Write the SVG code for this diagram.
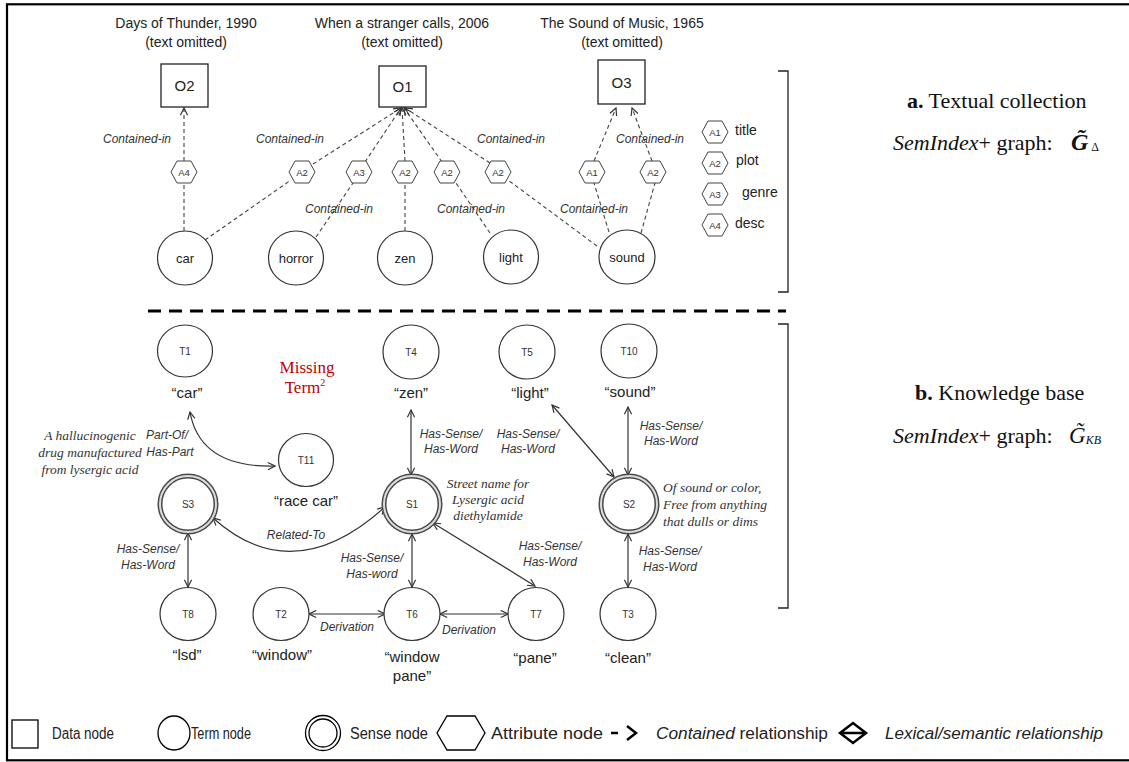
<svg xmlns="http://www.w3.org/2000/svg" xmlns:xlink="http://www.w3.org/1999/xlink" width="1129" height="762" viewBox="0 0 1129 762">
  <style>
    .sans { font-family: "Liberation Sans", Arial, sans-serif; fill: #222; }
    .serif { font-family: "Liberation Serif", "Times New Roman", serif; fill: #111; }
    .ttl { font-size: 14px; text-anchor: middle; }
    .oid { font-size: 15px; text-anchor: middle; }
    .tnm { font-size: 13px; text-anchor: middle; }
    .tid { font-size: 10px; text-anchor: middle; fill: #333; }
    .aid { font-size: 9.5px; text-anchor: middle; fill: #333; }
    .qt { font-size: 15px; text-anchor: middle; }
    .lbl { font-size: 12px; font-style: italic; fill: #333; }
    .mid { text-anchor: middle; }
    .desc { font-size: 13.5px; font-style: italic; fill: #333; }
    .box { fill: #fff; stroke: #222; stroke-width: 1.3; }
    .term { fill: #fff; stroke: #333; stroke-width: 1.2; }
    .hex { fill: #fff; stroke: #444; stroke-width: 1; }
    .dash { fill: none; stroke: #444; stroke-width: 1.1; stroke-dasharray: 4 3; }
    .rel { fill: none; stroke: #333; stroke-width: 1.2; }
    .leg { font-size: 16px; }
  </style>
  <defs>
    <marker id="open" viewBox="0 0 10 10" refX="9" refY="5" markerWidth="9" markerHeight="9" markerUnits="userSpaceOnUse" orient="auto-start-reverse">
      <path d="M1,1 L9,5 L1,9" fill="none" stroke="#333" stroke-width="1.3"/>
    </marker>
    <polygon id="hx" points="-13,0 -7,-11 7,-11 13,0 7,11 -7,11"/>
    <g id="sense">
      <circle r="28" fill="#fff" stroke="#4a4a4a" stroke-width="5"/>
      <circle r="28" fill="none" stroke="#dcdcdc" stroke-width="2"/>
    </g>
  </defs>

  <rect width="1129" height="762" fill="#fff"/>
  <!-- outer frame (right side runs off the canvas) -->
  <rect x="7" y="4.3" width="1140" height="756" fill="none" stroke="#000" stroke-width="2.2"/>

  <!-- section a: textual collection -->
  <g id="titles" class="sans ttl">
    <text x="186" y="28">Days of Thunder, 1990</text>
    <text x="186" y="47">(text omitted)</text>
    <text x="402" y="28">When a stranger calls, 2006</text>
    <text x="402" y="47">(text omitted)</text>
    <text x="622" y="28">The Sound of Music, 1965</text>
    <text x="622" y="47">(text omitted)</text>
  </g>

  <g id="connectors-a" class="dash">
    <path d="M184,231 V183"/>
    <path d="M184,161 V108" marker-end="url(#open)"/>
    <path d="M205,240 L291,180"/>
    <path d="M313,164 L401,108" marker-end="url(#open)"/>
    <path d="M316,237 L353,183"/>
    <path d="M365,162 L401,108" marker-end="url(#open)"/>
    <path d="M405,231 V183"/>
    <path d="M405,161 L402,108" marker-end="url(#open)"/>
    <path d="M490,233 L456,183"/>
    <path d="M442,162 L404,108" marker-end="url(#open)"/>
    <path d="M597,246 L508,180"/>
    <path d="M490,163 L405,108" marker-end="url(#open)"/>
    <path d="M609,232 L594,183"/>
    <path d="M594,161 L616,108" marker-end="url(#open)"/>
    <path d="M641,233 L655,183"/>
    <path d="M652,161 L632,108" marker-end="url(#open)"/>
  </g>

  <g id="contained-labels" class="sans lbl">
    <text x="103" y="143">Contained-in</text>
    <text x="256" y="143">Contained-in</text>
    <text x="305" y="213">Contained-in</text>
    <text x="437" y="213">Contained-in</text>
    <text x="477" y="143">Contained-in</text>
    <text x="560" y="213">Contained-in</text>
    <text x="616" y="143">Contained-in</text>
  </g>

  <g id="O2"><rect class="box" x="161" y="64" width="47" height="43"/><text class="sans oid" x="184.5" y="91">O2</text></g>
  <g id="O1"><rect class="box" x="379" y="66" width="47" height="41"/><text class="sans oid" x="402.5" y="92">O1</text></g>
  <g id="O3"><rect class="box" x="598" y="60" width="47" height="44"/><text class="sans oid" x="621.5" y="88">O3</text></g>

  <g id="A4-car"><use xlink:href="#hx" x="184" y="172" class="hex"/><text class="sans aid" x="184" y="175.5">A4</text></g>
  <g id="A2-car"><use xlink:href="#hx" x="302" y="172" class="hex"/><text class="sans aid" x="302" y="175.5">A2</text></g>
  <g id="A3-horror"><use xlink:href="#hx" x="359" y="172" class="hex"/><text class="sans aid" x="359" y="175.5">A3</text></g>
  <g id="A2-zen"><use xlink:href="#hx" x="405" y="172" class="hex"/><text class="sans aid" x="405" y="175.5">A2</text></g>
  <g id="A2-light"><use xlink:href="#hx" x="447" y="172" class="hex"/><text class="sans aid" x="447" y="175.5">A2</text></g>
  <g id="A2-sound"><use xlink:href="#hx" x="498" y="172" class="hex"/><text class="sans aid" x="498" y="175.5">A2</text></g>
  <g id="A1-sound"><use xlink:href="#hx" x="592" y="172" class="hex"/><text class="sans aid" x="592" y="175.5">A1</text></g>
  <g id="A2-sound-o3"><use xlink:href="#hx" x="653" y="172" class="hex"/><text class="sans aid" x="653" y="175.5">A2</text></g>

  <g id="car"><ellipse class="term" cx="185" cy="258" rx="27.5" ry="27"/><text class="sans tnm" x="185" y="263">car</text></g>
  <g id="horror"><ellipse class="term" cx="296" cy="258" rx="27.5" ry="27"/><text class="sans tnm" x="296" y="263">horror</text></g>
  <g id="zen"><ellipse class="term" cx="405" cy="258" rx="27.5" ry="27"/><text class="sans tnm" x="405" y="263">zen</text></g>
  <g id="light"><ellipse class="term" cx="511" cy="257" rx="27.5" ry="27"/><text class="sans tnm" x="511" y="262">light</text></g>
  <g id="sound"><ellipse class="term" cx="627" cy="257" rx="28" ry="27"/><text class="sans tnm" x="627" y="262">sound</text></g>

  <g id="attribute-key" class="sans">
    <use xlink:href="#hx" x="715" y="132" class="hex"/><text class="aid" x="715" y="135.5">A1</text><text x="735" y="135" font-size="14">title</text>
    <use xlink:href="#hx" x="715" y="163" class="hex"/><text class="aid" x="715" y="166.5">A2</text><text x="736" y="165" font-size="14">plot</text>
    <use xlink:href="#hx" x="715" y="194" class="hex"/><text class="aid" x="715" y="197.5">A3</text><text x="742" y="197" font-size="14">genre</text>
    <use xlink:href="#hx" x="715" y="225" class="hex"/><text class="aid" x="715" y="228.5">A4</text><text x="735" y="228" font-size="14">desc</text>
  </g>

  <path id="bracket-a" d="M778,71 H788 V292 H778" fill="none" stroke="#222" stroke-width="1.3"/>

  <g id="caption-a" class="serif">
    <text x="907" y="108" font-size="22"><tspan font-weight="bold">a.</tspan> Textual collection</text>
    <text x="893" y="150" font-size="22"><tspan font-style="italic">SemIndex</tspan>+ graph:</text>
    <text x="1071" y="150" font-size="24" font-weight="bold" font-style="italic">G&#771;<tspan font-size="12" font-weight="normal" font-style="normal" dx="3" dy="1">Δ</tspan></text>
  </g>

  <!-- separator between the two parts -->
  <path d="M148,311 H786" stroke="#000" stroke-width="3" stroke-dasharray="13 8"/>

  <!-- section b: knowledge base -->
  <g id="connectors-b" class="rel">
    <path d="M411,410 V475" marker-start="url(#open)" marker-end="url(#open)"/>
    <path d="M552,405 L614,477" marker-start="url(#open)" marker-end="url(#open)"/>
    <path d="M628,407 V475" marker-start="url(#open)" marker-end="url(#open)"/>
    <path d="M188,533 V587" marker-start="url(#open)" marker-end="url(#open)"/>
    <path d="M412,534 V587" marker-start="url(#open)" marker-end="url(#open)"/>
    <path d="M433,523 L535,586" marker-start="url(#open)" marker-end="url(#open)"/>
    <path d="M628,534 V587" marker-start="url(#open)" marker-end="url(#open)"/>
    <path d="M309,614 H385" marker-start="url(#open)" marker-end="url(#open)"/>
    <path d="M440,614 H508" marker-start="url(#open)" marker-end="url(#open)"/>
    <path d="M190,412 Q200,468 275,466" marker-start="url(#open)" marker-end="url(#open)"/>
    <path d="M213,518 Q293,590 385,507" marker-start="url(#open)" marker-end="url(#open)"/>
  </g>

  <g id="relation-labels" class="sans lbl mid">
    <text x="451" y="438">Has-Sense/</text><text x="451" y="453">Has-Word</text>
    <text x="528" y="438">Has-Sense/</text><text x="528" y="453">Has-Word</text>
    <text x="671" y="430">Has-Sense/</text><text x="671" y="445">Has-Word</text>
    <text x="148" y="553">Has-Sense/</text><text x="148" y="569">Has-Word</text>
    <text x="372" y="562">Has-Sense/</text><text x="372" y="578">Has-word</text>
    <text x="550" y="550">Has-Sense/</text><text x="550" y="566">Has-Word</text>
    <text x="670" y="555">Has-Sense/</text><text x="670" y="571">Has-Word</text>
    <text x="347" y="631">Derivation</text>
    <text x="469" y="634">Derivation</text>
    <text x="296" y="539">Related-To</text>
    <text x="167" y="439">Part-Of/</text><text x="170" y="456">Has-Part</text>
  </g>

  <g id="glosses" class="serif desc">
    <text x="90" y="440" text-anchor="middle">A hallucinogenic</text>
    <text x="90" y="457" text-anchor="middle">drug manufactured</text>
    <text x="90" y="474" text-anchor="middle">from lysergic acid</text>
    <text x="488" y="488" text-anchor="middle">Street name for</text>
    <text x="488" y="504" text-anchor="middle">Lysergic acid</text>
    <text x="488" y="520" text-anchor="middle">diethylamide</text>
    <text x="663" y="492">Of sound or color,</text>
    <text x="663" y="509">Free from anything</text>
    <text x="663" y="526">that dulls or dims</text>
  </g>

  <g id="missing-term" class="serif">
    <text x="307" y="373" font-size="17" text-anchor="middle" fill="#c00000">Missing</text>
    <text x="305" y="393" font-size="17" text-anchor="middle" fill="#c00000">Term<tspan font-size="10" dy="-7">2</tspan></text>
  </g>

  <g id="T1"><ellipse class="term" cx="185" cy="351" rx="27.5" ry="26"/><text class="sans tid" x="185" y="355">T1</text><text class="sans qt" x="187" y="398">“car”</text></g>
  <g id="T4"><ellipse class="term" cx="411" cy="352" rx="28" ry="27"/><text class="sans tid" x="411" y="356">T4</text><text class="sans qt" x="411" y="398">“zen”</text></g>
  <g id="T5"><ellipse class="term" cx="527" cy="352" rx="28" ry="27"/><text class="sans tid" x="527" y="356">T5</text><text class="sans qt" x="530" y="398">“light”</text></g>
  <g id="T10"><ellipse class="term" cx="629" cy="351" rx="28" ry="27"/><text class="sans tid" x="629" y="355">T10</text><text class="sans qt" x="630" y="397">“sound”</text></g>
  <g id="T11"><ellipse class="term" cx="306" cy="460" rx="27.5" ry="26.5"/><text class="sans tid" x="306" y="464">T11</text><text class="sans qt" x="306" y="506">“race car”</text></g>
  <g id="S3"><use xlink:href="#sense" x="188" y="504"/><text class="sans tid" x="188" y="508">S3</text></g>
  <g id="S1"><use xlink:href="#sense" x="412" y="504"/><text class="sans tid" x="412" y="508">S1</text></g>
  <g id="S2"><use xlink:href="#sense" x="629" y="504"/><text class="sans tid" x="629" y="508">S2</text></g>
  <g id="T8"><ellipse class="term" cx="188" cy="614" rx="28" ry="26.5"/><text class="sans tid" x="188" y="618">T8</text><text class="sans qt" x="187" y="660">“lsd”</text></g>
  <g id="T2"><ellipse class="term" cx="281" cy="614" rx="28" ry="26.5"/><text class="sans tid" x="281" y="618">T2</text><text class="sans qt" x="282" y="660">“window”</text></g>
  <g id="T6"><ellipse class="term" cx="412" cy="614" rx="28" ry="26.5"/><text class="sans tid" x="412" y="618">T6</text><text class="sans qt" x="412" y="662">“window</text><text class="sans qt" x="412" y="681">pane”</text></g>
  <g id="T7"><ellipse class="term" cx="536" cy="614" rx="28" ry="26.5"/><text class="sans tid" x="536" y="618">T7</text><text class="sans qt" x="535" y="663">“pane”</text></g>
  <g id="T3"><ellipse class="term" cx="628" cy="614" rx="28" ry="26.5"/><text class="sans tid" x="628" y="618">T3</text><text class="sans qt" x="628" y="663">“clean”</text></g>

  <path id="bracket-b" d="M778,324 H788 V608 H778" fill="none" stroke="#222" stroke-width="1.3"/>

  <g id="caption-b" class="serif">
    <text x="915" y="400" font-size="22"><tspan font-weight="bold">b.</tspan> Knowledge base</text>
    <text x="893" y="443" font-size="22"><tspan font-style="italic">SemIndex</tspan>+ graph:</text>
    <text x="1069" y="443" font-size="23" font-style="italic">G&#771;<tspan font-size="12" dy="1">KB</tspan></text>
  </g>

  <!-- legend -->
  <g id="legend" class="sans">
    <rect x="12" y="720" width="26" height="28" fill="#fff" stroke="#000" stroke-width="1.3"/>
    <text class="leg" x="52" y="739" textLength="62" lengthAdjust="spacingAndGlyphs">Data node</text>
    <ellipse cx="174" cy="733" rx="16" ry="17" fill="#fff" stroke="#000" stroke-width="1.3"/>
    <text class="leg" x="191" y="739" textLength="60" lengthAdjust="spacingAndGlyphs">Term node</text>
    <circle cx="323" cy="733" r="17.5" fill="#fff" stroke="#000" stroke-width="1.3"/>
    <circle cx="323" cy="733" r="14" fill="none" stroke="#000" stroke-width="1.3"/>
    <text class="leg" x="350" y="739" textLength="78" lengthAdjust="spacingAndGlyphs">Sense node</text>
    <polygon points="437,733 447,716 475,716 485,733 475,750 447,750" fill="#fff" stroke="#000" stroke-width="1.3"/>
    <text class="leg" x="491" y="739" textLength="112" lengthAdjust="spacingAndGlyphs">Attribute node</text>
    <path d="M611,733 H618" stroke="#000" stroke-width="2.5"/>
    <path d="M627,726 L636,733 L627,740" fill="none" stroke="#000" stroke-width="2.5"/>
    <text class="leg" x="656" y="739" textLength="172" lengthAdjust="spacingAndGlyphs"><tspan font-style="italic">Contained</tspan> relationship</text>
    <path d="M840,733 L853,723 L866,733 L853,743 Z M840,733 H866" fill="none" stroke="#000" stroke-width="2.5"/>
    <text class="leg" x="885" y="739" font-style="italic" textLength="218" lengthAdjust="spacingAndGlyphs">Lexical/semantic relationship</text>
  </g>
</svg>
